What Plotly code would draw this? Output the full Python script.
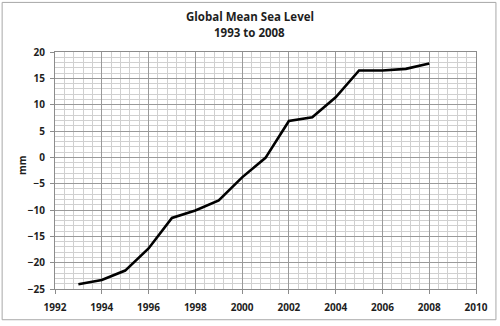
import plotly.graph_objects as go

years = [1993, 1994, 1995, 1996, 1997, 1998, 1999, 2000, 2001, 2002, 2003, 2004, 2005, 2006, 2007, 2008]
sea_level_mm = [-24.1, -23.3, -21.5, -17.3, -11.5, -10.1, -8.2, -3.8, -0.1, 6.9, 7.6, 11.4, 16.5, 16.5, 16.8, 17.8]

title_line1 = "Global Mean Sea Level"
title_line2 = "1993 to 2008"
y_title = "mm"

FONT = "'Open Sans', Lato, sans-serif"
TXT = "#1e1e1e"

fig = go.Figure()
fig.add_trace(go.Scatter(x=years, y=sea_level_mm, mode="lines",
                         line=dict(color="black", width=2.6), showlegend=False,
                         hoverinfo="x+y"))

axis_common = dict(
    showline=True, linecolor="#8c8c8c", linewidth=1, mirror=True,
    ticks="outside", ticklen=4, tickcolor="#8c8c8c",
    gridcolor="#9a9a9a", gridwidth=1, zeroline=False,
    tickfont=dict(family=FONT, size=10, color=TXT, weight=700),
)

fig.update_xaxes(range=[1992, 2010], tick0=1992, dtick=2, ticklabelstandoff=5,
                 minor=dict(dtick=0.4, tick0=1992, showgrid=True, gridcolor="#d0d0d0", gridwidth=1),
                 **axis_common)
fig.update_yaxes(range=[-25, 20], tick0=-25, dtick=5, ticklabelstandoff=3,
                 minor=dict(dtick=1, tick0=-25, showgrid=True, gridcolor="#d0d0d0", gridwidth=1),
                 **axis_common)

PW, PH = 422, 239
def px_x(p):
    return (p - 55) / PW
def px_y(p):
    return (291 - p) / PH

fig.update_layout(
    width=500, height=326,
    margin=dict(l=55, r=23, t=52, b=35),
    paper_bgcolor="white", plot_bgcolor="white",
    annotations=[
        dict(text="<b>" + title_line1 + "</b>", xref="paper", yref="paper", x=px_x(250), y=px_y(16),
             xanchor="center", yanchor="middle", showarrow=False,
             font=dict(family=FONT, size=11.5, color=TXT)),
        dict(text="<b>" + title_line2 + "</b>", xref="paper", yref="paper", x=px_x(250), y=px_y(32),
             xanchor="center", yanchor="middle", showarrow=False,
             font=dict(family=FONT, size=11.5, color=TXT)),
        dict(text="<b>" + y_title + "</b>", xref="paper", yref="paper", x=px_x(22), y=px_y(166),
             xanchor="center", yanchor="middle", showarrow=False, textangle=-90,
             font=dict(family=FONT, size=10, color=TXT)),
    ],
    shapes=[dict(type="rect", xref="paper", yref="paper",
                 x0=px_x(2), x1=px_x(497), y0=px_y(322), y1=px_y(2),
                 line=dict(color="#a8a8a8", width=1), layer="below")],
)

fig.write_html("out.html")
